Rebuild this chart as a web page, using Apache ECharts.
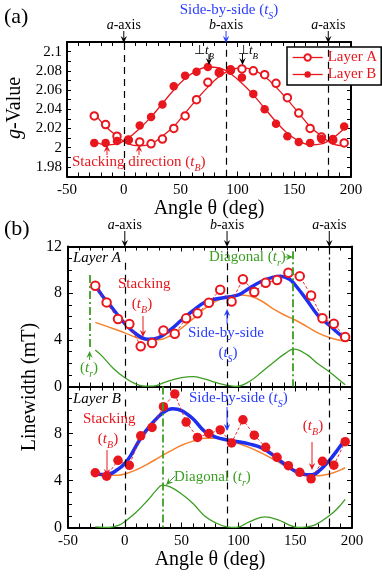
<!DOCTYPE html>
<html>
<head>
<meta charset="utf-8">
<script src="https://cdn.jsdelivr.net/npm/echarts@6/dist/echarts.min.js"></script>
<style>
html, body { margin: 0; padding: 0; background: #fff; }
#chart-container { width: 382px; height: 578px; }
</style>
</head>
<body>
<div id="chart-container"></div>
<script>
// ---- panel (a): g-value vs angle ----
const angles = [-26, -16, -6, 4, 14, 24, 34, 44, 54, 64, 74, 84, 94, 104, 114, 124, 134, 144, 154, 164, 174, 184, 194]
const gLayerA = [2.033, 2.024, 2.012, 2.008, 2.006, 2.004, 2.009, 2.020, 2.033, 2.050, 2.068, 2.078, 2.081, 2.082, 2.080, 2.076, 2.067, 2.052, 2.036, 2.020, 2.011, 2.008, 2.005]
const gLayerB = [2.005, 2.005, 2.007, 2.008, 2.023, 2.032, 2.045, 2.064, 2.075, 2.079, 2.084, 2.079, 2.080, 2.073, 2.056, 2.040, 2.025, 2.012, 2.006, 2.005, 2.009, 2.009, 2.022]
const gFitA = [2.036, 2.022, 2.012, 2.004, 2.002, 2.004, 2.012, 2.022, 2.036, 2.050, 2.063, 2.074, 2.081, 2.083, 2.081, 2.074, 2.063, 2.050, 2.036, 2.022, 2.012, 2.004, 2.002]
const gFitB = [2.007, 2.003, 2.004, 2.010, 2.020, 2.032, 2.046, 2.060, 2.072, 2.080, 2.084, 2.083, 2.077, 2.067, 2.055, 2.041, 2.027, 2.015, 2.007, 2.003, 2.004, 2.010, 2.020]

// ---- panel (b) upper: Layer A linewidth ----
const lwLayerA = [8.63, 7.21, 5.78, 5.35, 3.44, 3.72, 4.81, 4.52, 5.84, 6.27, 7.18, 8.3, 7.28, 9.2, 8.1, 8.89, 9.12, 9.75, 9.46, 7.8, 5.85, 5.38, 4.25]
const blueAngleA = [-26, -20, -10, 0, 10, 20, 30, 40, 50, 60, 70, 80, 90, 100, 110, 120, 130, 137, 145, 150, 160, 170, 180, 190, 195]
const blueA = [8.7, 7.8, 6.6, 5.4, 4.5, 4.05, 4.2, 4.85, 5.7, 6.5, 7.2, 7.5, 7.65, 7.85, 8.45, 9.0, 9.35, 9.45, 9.2, 8.7, 7.45, 6.1, 5.25, 4.4, 4.05]
const orangeAngleA = [-26, -10, 0, 10, 20, 30, 40, 50, 60, 70, 80, 90, 100, 110, 120, 130, 140, 150, 160, 170, 180, 190, 195]
const orangeA = [5.5, 4.95, 4.6, 4.2, 3.98, 4.0, 4.35, 5.0, 5.8, 6.65, 7.3, 7.7, 7.85, 7.75, 7.35, 6.7, 6.15, 5.7, 5.15, 4.6, 4.2, 3.95, 3.9]
const greenAngleA = [-26, -20, -10, 0, 10, 17, 25, 35, 45, 55, 60, 70, 80, 90, 98, 110, 120, 130, 140, 149, 160, 170, 180, 187, 194]
const greenA = [3.12, 2.6, 1.55, 0.75, 0.2, 0.03, 0.03, 0.35, 0.65, 0.82, 0.84, 0.65, 0.35, 0.1, 0.0, 0.45, 1.2, 2.0, 2.75, 3.2, 2.75, 1.95, 1.27, 0.7, 0.15]

// ---- panel (b) lower: Layer B linewidth ----
const lwLayerB = [4.66, 4.37, 5.72, 5.29, 7.8, 8.52, 10.28, 11.37, 8.97, 7.67, 8.0, 8.3, 7.2, 9.17, 7.86, 6.82, 5.97, 5.26, 4.7, 4.14, 5.63, 5.3, 7.3]
const blueAngleB = [-26, -16, -6, 0, 5, 14, 24, 34, 42, 50, 60, 70, 80, 90, 100, 110, 120, 130, 140, 150, 160, 165, 172, 180, 188, 194]
const blueB = [4.55, 4.5, 4.95, 5.45, 6.1, 7.6, 8.85, 9.8, 10.1, 9.95, 9.25, 8.2, 7.7, 7.45, 7.3, 7.1, 6.8, 6.2, 5.45, 4.8, 4.5, 4.5, 4.9, 5.7, 6.7, 7.5]
const orangeAngleB = [-26, -16, -6, 0, 10, 20, 30, 40, 50, 60, 70, 80, 90, 100, 110, 120, 130, 140, 150, 160, 170, 180, 190, 194]
const orangeB = [4.6, 4.45, 4.45, 4.55, 4.9, 5.4, 5.95, 6.5, 7.0, 7.35, 7.6, 7.6, 7.4, 7.15, 6.8, 6.35, 5.85, 5.3, 4.85, 4.55, 4.4, 4.55, 4.9, 5.1]
const greenAngleB = [-26, -14, -5, 0, 10, 20, 28, 33, 40, 50, 60, 70, 80, 90, 98, 110, 123, 135, 145, 152, 160, 168, 180, 187, 194]
const greenB = [0.05, 0.0, 0.2, 0.5, 1.3, 2.3, 3.2, 3.6, 3.45, 2.85, 2.05, 1.0, 0.4, 0.05, 0.0, 0.5, 0.9, 0.65, 0.2, 0.0, 0.05, 0.25, 1.0, 1.6, 2.4]

const xTicks = [-50, 0, 50, 100, 150, 200]

const RED = '#e8161d', BLUE = '#1e2ff0', ORANGE = '#f7822e', GREEN = '#3b9e22', TXTBLUE = '#2a3cff'
const FONT = 'Liberation Serif'

const pairs = (xs, ys) => xs.map((x, i) => [x, ys[i]])

function xAxis(grid, pos, labels) {
  return {
    type: 'value', gridIndex: grid, position: pos,
    min: xTicks[0], max: xTicks[xTicks.length - 1], interval: 50,
    axisLine: { show: true, onZero: false, lineStyle: { color: '#000', width: 2 } },
    axisTick: { show: true, inside: true, length: 5, lineStyle: { color: '#000', width: 1 } },
    minorTick: { show: true, splitNumber: 5, length: 4, lineStyle: { color: '#000', width: 1 } },
    splitLine: { show: false },
    axisLabel: { show: labels, color: '#000', fontFamily: FONT, fontSize: 15, margin: 6, showMinLabel: true, showMaxLabel: true },
    name: labels ? 'Angle θ (deg)' : '',
    nameLocation: 'middle', nameGap: grid === 0 ? 17 : 21,
    nameTextStyle: { color: '#000', fontFamily: FONT, fontSize: 20 }
  }
}

function yAxisA(pos) {
  return {
    type: 'value', gridIndex: 0, position: pos, min: 1.97, max: 2.11, interval: 0.01,
    axisLine: { show: true, onZero: false, lineStyle: { color: '#000', width: 2 } },
    axisTick: { show: true, inside: true, length: 4, lineStyle: { color: '#000' } },
    splitLine: { show: false },
    axisLabel: {
      show: pos === 'left', color: '#000', fontFamily: FONT, fontSize: 15, margin: 5,
      formatter: v => {
        const h = Math.round(v * 100)
        return (h % 2 === 0 && h >= 198 && h <= 210) ? String(h / 100) : ''
      }
    }
  }
}

function yAxisB(grid, pos, showMax) {
  return {
    type: 'value', gridIndex: grid, position: pos, min: 0, max: 12, interval: 4,
    axisLine: { show: true, onZero: false, lineStyle: { color: '#000', width: 2 } },
    axisTick: { show: true, inside: true, length: 5, lineStyle: { color: '#000' } },
    minorTick: { show: true, splitNumber: 4, length: 4, lineStyle: { color: '#000' } },
    splitLine: { show: false },
    axisLabel: { show: pos === 'left', color: '#000', fontFamily: FONT, fontSize: 16, margin: 6, showMaxLabel: showMax, showMinLabel: true }
  }
}

function vline(x, y1, y2, color, type, width) {
  const ls = { color: color, type: type, width: width }
  return [{ coord: [x, y1], lineStyle: ls }, { coord: [x, y2], lineStyle: ls }]
}

function markLines(lines) {
  return { silent: true, symbol: ['none', 'none'], label: { show: false }, animation: false, data: lines }
}

const DASH = [7, 5], DASHDOT = [8, 3, 2, 3]

function fit(name, x, y, xi, color, width, ml) {
  const s = {
    name: name, type: 'line', xAxisIndex: xi, yAxisIndex: xi, data: pairs(x, y),
    smooth: 0.4, symbol: 'none', lineStyle: { color: color, width: width }, z: 3
  }
  if (ml) s.markLine = ml
  return s
}

const option = {
  animation: false,
  backgroundColor: '#fff',
  grid: [
    { left: 67, top: 42, width: 284, height: 134.5, outerBoundsMode: 'none' },
    { left: 68, top: 246.5, width: 284, height: 140, outerBoundsMode: 'none' },
    { left: 68, top: 386.5, width: 284, height: 141, outerBoundsMode: 'none' }
  ],
  xAxis: [
    xAxis(0, 'bottom', true), xAxis(0, 'top', false),
    xAxis(1, 'bottom', false), xAxis(1, 'top', false),
    xAxis(2, 'bottom', true), xAxis(2, 'top', false)
  ],
  yAxis: [
    yAxisA('left'), yAxisA('right'),
    yAxisB(1, 'left', true), yAxisB(1, 'right', true),
    yAxisB(2, 'left', false), yAxisB(2, 'right', false)
  ],
  legend: {
    data: ['Layer A', 'Layer B'], selectedMode: false,
    left: 287, top: 47, orient: 'vertical', itemGap: 2, itemWidth: 30, itemHeight: 8,
    padding: [3, 4, 3, 5], backgroundColor: '#fff', borderColor: '#000', borderWidth: 1.5,
    textStyle: { color: RED, fontFamily: FONT, fontSize: 15 },
    lineStyle: { color: RED, width: 1.3, opacity: 1 }
  },
  series: [
    // (a)
    fit('fitA', angles, gFitA, 0, RED, 1.3, markLines([
      vline(0, 2.109, 1.97, '#000', DASH, 1.2),
      vline(90, 2.102, 1.97, '#000', DASH, 1.2),
      vline(180, 2.102, 1.97, '#000', DASH, 1.2)
    ])),
    fit('fitB', angles, gFitB, 0, RED, 1.3),
    {
      name: 'Layer A', type: 'line', xAxisIndex: 0, yAxisIndex: 0, data: pairs(angles, gLayerA),
      symbol: 'emptyCircle', symbolSize: 7.5, lineStyle: { width: 0, opacity: 0 },
      itemStyle: { color: RED, borderColor: RED, borderWidth: 0.9 }, z: 4
    },
    {
      name: 'Layer B', type: 'line', xAxisIndex: 0, yAxisIndex: 0, data: pairs(angles, gLayerB),
      symbol: 'circle', symbolSize: 8.5, lineStyle: { width: 0, opacity: 0 },
      itemStyle: { color: RED }, z: 4
    },
    // (b) upper
    fit('greenA', greenAngleA, greenA, 2, GREEN, 1.3, markLines([
      vline(0, 10.6, 0.1, '#000', DASH, 1.2),
      vline(90, 11.6, 0, '#000', DASH, 1.2),
      vline(180, 12, 0, '#000', DASHDOT, 1.2),
      vline(-31, 9.55, 3.15, GREEN, DASHDOT, 1.8),
      vline(148, 11.6, 0, GREEN, DASHDOT, 1.8)
    ])),
    fit('orangeA', orangeAngleA, orangeA, 2, ORANGE, 1.5),
    fit('blueA', blueAngleA, blueA, 2, BLUE, 3.5),
    {
      name: 'lwA', type: 'line', xAxisIndex: 2, yAxisIndex: 2, data: pairs(angles, lwLayerA),
      symbol: 'emptyCircle', symbolSize: 8.5, lineStyle: { color: RED, width: 0.9, type: [3, 2] },
      itemStyle: { color: RED, borderColor: RED, borderWidth: 0.9 }, z: 4
    },
    // (b) lower
    fit('greenB', greenAngleB, greenB, 4, GREEN, 1.3, markLines([
      vline(0, 10.9, 0, '#000', DASH, 1.2),
      vline(90, 12, 0, '#000', DASH, 1.2),
      vline(180, 12, 0, '#000', DASH, 1.2),
      vline(33.5, 12, 0, GREEN, DASHDOT, 1.8)
    ])),
    fit('orangeB', orangeAngleB, orangeB, 4, ORANGE, 1.5),
    {
      name: 'lwB', type: 'line', xAxisIndex: 4, yAxisIndex: 4, data: pairs(angles, lwLayerB),
      symbol: 'circle', symbolSize: 9.5, lineStyle: { color: RED, width: 0.9, type: [3, 2] },
      itemStyle: { color: RED }, z: 4
    },
    fit('blueB', blueAngleB, blueB, 4, BLUE, 3.5)
  ]
}

const chart = echarts.init(document.getElementById('chart-container'))
chart.setOption(option)

// ---- annotations ----
const ctx = document.createElement('canvas').getContext('2d')
function fontOf(kind, size) {
  return (kind ? 'italic ' : '') + size + 'px "' + FONT + '"'
}
// parts: [text, kind]; kind '' normal, 'i' italic, 's' italic subscript
function rowText(x, y, parts, color, size, anchor) {
  const items = []
  let w = 0
  parts.forEach(([t, k]) => {
    const fs = k === 's' ? Math.round(size * 0.68) : size
    const f = fontOf(k, fs)
    ctx.font = f
    items.push({ t: t, f: f, dx: w, dy: k === 's' ? size * 0.42 : 0 })
    w += ctx.measureText(t).width
  })
  const x0 = anchor === 'center' ? x - w / 2 : (anchor === 'right' ? x - w : x)
  return items.map(it => ({
    type: 'text', x: x0 + it.dx, y: y + it.dy, silent: true, z: 50,
    style: { text: it.t, font: it.f, fill: color, align: 'left', verticalAlign: 'middle' }
  }))
}

function arrow(x1, y1, x2, y2, color, lw) {
  const a = Math.atan2(y2 - y1, x2 - x1), L = 7, H = 3.2
  const c = Math.cos(a), s = Math.sin(a)
  const bx = x2 - L * c, by = y2 - L * s
  const nx = x2 - L * 0.65 * c, ny = y2 - L * 0.65 * s
  return [
    { type: 'line', silent: true, z: 50, shape: { x1: x1, y1: y1, x2: nx, y2: ny }, style: { stroke: color, lineWidth: lw || 1 } },
    { type: 'polygon', silent: true, z: 50, shape: { points: [[x2, y2], [bx - s * H, by + c * H], [nx, ny], [bx + s * H, by - c * H]] }, style: { fill: color } }
  ]
}

const pxA = v => chart.convertToPixel({ xAxisIndex: 0 }, v)
const pxB = v => chart.convertToPixel({ xAxisIndex: 2 }, v)

let g = []
// panel labels
g = g.concat(rowText(4, 17, [['(a)', '']], '#000', 22, 'left'))
g = g.concat(rowText(4, 229, [['(b)', '']], '#000', 22, 'left'))

// (a) header
g = g.concat(rowText(229, 10, [['Side-by-side (', ''], ['t', 'i'], ['S', 's'], [')', '']], TXTBLUE, 15, 'center'))
g = g.concat(rowText(pxA(0), 25, [['a', 'i'], ['-axis', '']], '#000', 14, 'center'))
g = g.concat(rowText(pxA(90), 25, [['b', 'i'], ['-axis', '']], '#000', 14, 'center'))
g = g.concat(rowText(pxA(180), 25, [['a', 'i'], ['-axis', '']], '#000', 14, 'center'))
g = g.concat(arrow(pxA(0), 31, pxA(0), 43, '#000'))
g = g.concat(arrow(pxA(90), 31, pxA(90), 43, TXTBLUE))
g = g.concat(arrow(pxA(180), 31, pxA(180), 43, '#000'))
g = g.concat(rowText(204, 51, [['⊥', ''], ['t', 'i'], ['B', 's']], '#000', 13, 'center'))
g = g.concat(rowText(248, 51, [['⊥', ''], ['t', 'i'], ['B', 's']], '#000', 13, 'center'))
g = g.concat(arrow(209, 54, 209, 65, '#000'))
g = g.concat(arrow(242.5, 54, 242.5, 65, '#000'))
g = g.concat(rowText(72, 162, [['Stacking direction (', ''], ['t', 'i'], ['B', 's'], [')', '']], RED, 15, 'left'))
g = g.concat(arrow(107, 155, 107, 145, RED))
g = g.concat(arrow(139, 155, 139, 145, RED))

// (b) header
g = g.concat(rowText(pxB(0), 225, [['a', 'i'], ['-axis', '']], '#000', 14, 'center'))
g = g.concat(rowText(pxB(90), 225, [['b', 'i'], ['-axis', '']], '#000', 14, 'center'))
g = g.concat(rowText(pxB(180), 225, [['a', 'i'], ['-axis', '']], '#000', 14, 'center'))
g = g.concat(arrow(pxB(0), 231, pxB(0), 247, '#000'))
g = g.concat(arrow(pxB(90), 231, pxB(90), 247, '#000'))
g = g.concat(arrow(pxB(180), 231, pxB(180), 247, '#000'))

// (b) upper annotations
g = g.concat(rowText(73, 258, [['Layer A', 'i']], '#000', 15, 'left'))
g = g.concat(rowText(209, 257, [['Diagonal (', ''], ['t', 'i'], ['r', 's'], [')', '']], GREEN, 15, 'left'))
g = g.concat(arrow(284, 257, pxB(148), 257, GREEN))
g = g.concat(rowText(118, 284, [['Stacking', '']], RED, 15, 'left'))
g = g.concat(rowText(142, 304, [['(', ''], ['t', 'i'], ['B', 's'], [')', '']], RED, 15, 'center'))
g = g.concat(arrow(143, 316, 143, 337, RED))
g = g.concat(rowText(188, 333, [['Side-by-side', '']], TXTBLUE, 15, 'left'))
g = g.concat(rowText(228, 353, [['(', ''], ['t', 'i'], ['S', 's'], [')', '']], TXTBLUE, 15, 'center'))
g = g.concat(arrow(pxB(90), 324, pxB(90), 309, TXTBLUE))
g = g.concat(rowText(89, 368, [['(', ''], ['t', 'i'], ['r', 's'], [')', '']], GREEN, 15, 'center'))
g = g.concat(arrow(pxB(-31), 360, pxB(-31), 351, GREEN))

// (b) lower annotations
g = g.concat(rowText(73, 399, [['Layer B', 'i']], '#000', 15, 'left'))
g = g.concat(rowText(189, 398, [['Side-by-side (', ''], ['t', 'i'], ['S', 's'], [')', '']], TXTBLUE, 15, 'left'))
g = g.concat(arrow(pxB(90), 407, pxB(90), 431, TXTBLUE))
g = g.concat(rowText(83, 419, [['Stacking', '']], RED, 15, 'left'))
g = g.concat(rowText(108, 439, [['(', ''], ['t', 'i'], ['B', 's'], [')', '']], RED, 15, 'center'))
g = g.concat(arrow(107, 450, 107, 476, RED))
g = g.concat(rowText(313, 426, [['(', ''], ['t', 'i'], ['B', 's'], [')', '']], RED, 15, 'center'))
g = g.concat(arrow(312, 442, 312, 470, RED))
g = g.concat(rowText(174, 477, [['Diagonal (', ''], ['t', 'i'], ['r', 's'], [')', '']], GREEN, 15, 'left'))
g = g.concat(arrow(175, 476, 166, 485, GREEN))

// rotated y-axis names
g.push({
  type: 'text', x: 15, y: 108, rotation: Math.PI / 2, silent: true, z: 50,
  style: {
    text: '{i|g}-Value', font: '20px "' + FONT + '"', fill: '#000', align: 'center', verticalAlign: 'middle',
    rich: { i: { fontStyle: 'italic', fontSize: 20, fontFamily: FONT } }
  }
})
g.push({
  type: 'text', x: 30, y: 387, rotation: Math.PI / 2, silent: true, z: 50,
  style: { text: 'Linewidth (mT)', font: '20px "' + FONT + '"', fill: '#000', align: 'center', verticalAlign: 'middle' }
})

chart.setOption({ graphic: { elements: g } })
</script>
</body>
</html>
